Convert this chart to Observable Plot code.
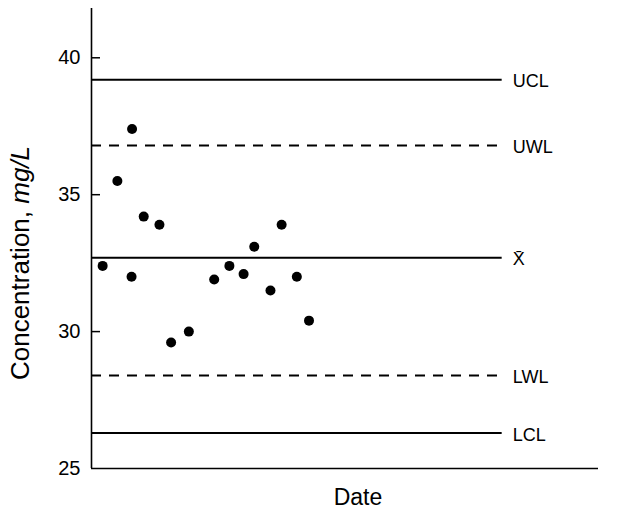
<!DOCTYPE html>
<html>
<head>
<meta charset="utf-8">
<script src="https://cdn.jsdelivr.net/npm/d3@7"></script>
<script src="https://cdn.jsdelivr.net/npm/@observablehq/plot@0.6"></script>
<style>
  html, body { margin: 0; padding: 0; background: #fff; }
  #chart svg { display: block; }
</style>
</head>
<body>
<div id="chart"></div>
<script>
// Sample dates (arbitrary day positions along the x axis) and concentrations (mg/L)
const dates = [2.2, 5.1, 7.9, 8.0, 10.3, 13.4, 15.7, 19.2, 24.2, 27.2, 30.0, 32.1, 35.3, 37.5, 40.5, 42.9];
const concentrations = [32.4, 35.5, 32.0, 37.4, 34.2, 33.9, 29.6, 30.0, 31.9, 32.4, 32.1, 33.1, 31.5, 33.9, 32.0, 30.4];

// Control chart limits
const limitNames = ["UCL", "UWL", "X\u0304", "LWL", "LCL"];
const limitValues = [39.2, 36.8, 32.7, 28.4, 26.3];
const limitDashed = [false, true, false, true, false];

const yTicks = [25, 30, 35, 40];
const xDomain = [0, 100];
const yDomain = [25, 41.8];
const lineEnd = 81;
const labelX = 83.1;

const W = 626, ML = 91, MR = 28;
const tickLen = 9 * (xDomain[1] - xDomain[0]) / (W - ML - MR); // 9px inward tick, in x units

const points = dates.map((d, i) => ({date: d, value: concentrations[i]}));
const limits = limitNames.map((n, i) => ({name: n, value: limitValues[i], dashed: limitDashed[i]}));

const font = "'Liberation Sans', Arial, Helvetica, sans-serif";

const svg = Plot.plot({
  width: W,
  height: 510,
  marginLeft: ML,
  marginRight: MR,
  marginTop: 8,
  marginBottom: 42,
  style: {fontFamily: font, fontSize: "20px", color: "#000", background: "#fff"},
  x: {domain: xDomain, axis: null},
  y: {domain: yDomain, axis: null},
  marks: [
    // tick labels
    Plot.axisY(yTicks, {tickSize: 0, tickPadding: 11, label: null, fontSize: 20}),
    // inward tick marks
    Plot.ruleY(yTicks.slice(1), {x1: xDomain[0], x2: xDomain[0] + tickLen, stroke: "#000", strokeWidth: 1.5}),
    Plot.ruleX([xDomain[0]], {stroke: "#000", strokeWidth: 1.6}),
    Plot.ruleY([yDomain[0]], {stroke: "#000", strokeWidth: 1.6}),
    Plot.ruleY(limits.filter(d => !d.dashed), {y: "value", x1: xDomain[0], x2: lineEnd, stroke: "#000", strokeWidth: 2}),
    Plot.ruleY(limits.filter(d => d.dashed), {y: "value", x1: xDomain[0], x2: lineEnd, stroke: "#000", strokeWidth: 2, strokeDasharray: "10,8"}),
    Plot.text(limits, {x: labelX, y: "value", text: "name", textAnchor: "start", dy: 2, fontSize: 18, fill: "#000"}),
    Plot.dot(points, {x: "date", y: "value", r: 5, fill: "#000", stroke: "none"})
  ]
});

const s = d3.select(svg);
// Y axis label with italic unit
const yl = s.append("text")
  .attr("transform", "translate(29,263) rotate(-90)")
  .attr("text-anchor", "middle")
  .attr("font-size", 26)
  .attr("fill", "#000")
  .style("font-family", font);
yl.append("tspan").text("Concentration, ");
yl.append("tspan").attr("font-style", "italic").text("mg/L");

// X axis label
s.append("text")
  .attr("x", 358)
  .attr("y", 505)
  .attr("text-anchor", "middle")
  .attr("font-size", 23)
  .attr("fill", "#000")
  .style("font-family", font)
  .text("Date");

document.getElementById("chart").appendChild(svg);
</script>
</body>
</html>
